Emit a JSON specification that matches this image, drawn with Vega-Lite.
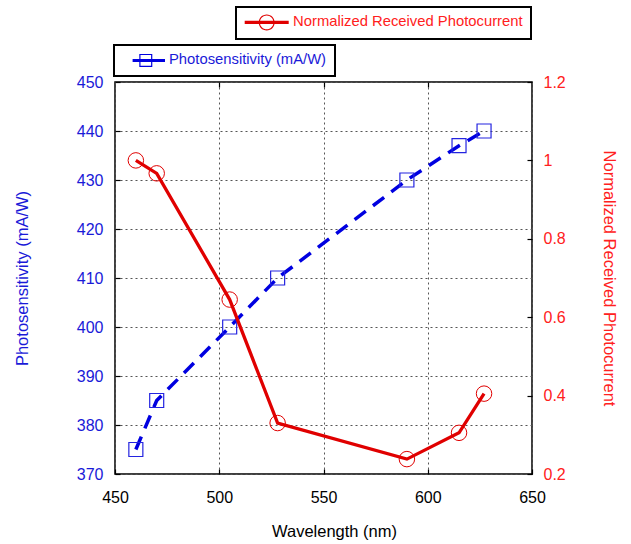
{
  "$schema": "https://vega.github.io/schema/vega-lite/v6.json",
  "width": 417,
  "height": 392,
  "autosize": {"type": "none"},
  "padding": {"left": 115, "top": 82, "right": 99, "bottom": 70},
  "config": {
    "font": "Liberation Sans",
    "view": {"stroke": "black", "strokeWidth": 1.5},
    "legend": {"strokeWidth": 2},
    "axis": {
      "domain": false,
      "grid": true,
      "gridDash": [2, 3],
      "gridColor": "#555555",
      "gridWidth": 1,
      "gridOpacity": 1,
      "tickColor": "black",
      "tickSize": -5,
      "tickWidth": 1.2,
      "labelFont": "Liberation Sans",
      "titleFont": "Liberation Sans",
      "labelFontSize": 16,
      "titleFontSize": 16.5,
      "titleFontWeight": "normal",
      "labelFlush": false,
      "labelOverlap": false
    }
  },
  "data": {
    "values": [
      {"wl": 460, "ps": 375, "nrc": 1.0},
      {"wl": 470, "ps": 385, "nrc": 0.967},
      {"wl": 505, "ps": 400, "nrc": 0.645},
      {"wl": 528, "ps": 410, "nrc": 0.33},
      {"wl": 590, "ps": 430, "nrc": 0.238},
      {"wl": 615, "ps": 437, "nrc": 0.305},
      {"wl": 627, "ps": 440, "nrc": 0.405}
    ]
  },
  "layer": [
    {
      "encoding": {
        "x": {
          "field": "wl",
          "type": "quantitative",
          "scale": {"domain": [450, 650], "nice": false, "zero": false},
          "axis": {
            "orient": "bottom",
            "title": "Wavelength (nm)",
            "values": [450, 500, 550, 600, 650],
            "labelColor": "black",
            "labelPadding": 20,
            "titleColor": "black",
            "titleBaseline": "alphabetic",
            "titleX": 219,
            "titleY": 62.7
          }
        }
      },
      "layer": [
        {
          "mark": {"type": "line", "strokeDash": [14, 9], "strokeWidth": 3.5, "strokeCap": "butt"},
          "encoding": {
            "y": {
              "field": "ps",
              "type": "quantitative",
              "scale": {"domain": [370, 450], "nice": false, "zero": false},
              "axis": {
                "orient": "left",
                "title": "Photosensitivity (mA/W)",
                "values": [370, 380, 390, 400, 410, 420, 430, 440, 450],
                "labelColor": "#1a1ad8",
                "titleColor": "#1a1ad8",
                "labelPadding": 17,
                "titleBaseline": "alphabetic",
                "titleX": -88
              }
            },
            "color": {
              "datum": "Photosensitivity (mA/W)",
              "scale": {"range": ["#0000e0"]},
              "legend": {
                "orient": "none",
                "legendX": -1,
                "legendY": -37,
                "title": null,
                "padding": 8,
                "strokeColor": "black",
                "labelFont": "Liberation Sans",
                "labelFontSize": 14.8,
                "labelLimit": 400,
                "labelColor": "#1a1ad8",
                "symbolType": "M-2.314,-0.214H2.314V0.214H-2.314Z M-1.357,-0.929H0.5V0.929H-1.357Z M-1.186,-0.757V0.757H0.329V-0.757Z",
                "symbolSize": 196,
                "symbolStrokeWidth": 0,
                "symbolOffset": 19.4,
                "labelOffset": 12.8,
                "symbolFillColor": "#0000e0",
                "symbolStrokeColor": "transparent"
              }
            }
          }
        },
        {
          "mark": {"type": "point", "shape": "square", "size": 196, "filled": false, "color": "#2424e0", "strokeWidth": 1.2, "opacity": 1},
          "encoding": {
            "y": {"field": "ps", "type": "quantitative"}
          }
        }
      ]
    },
    {
      "encoding": {
        "x": {
          "field": "wl",
          "type": "quantitative",
          "axis": {
            "orient": "top",
            "title": null,
            "labels": false,
            "grid": false,
            "values": [500, 550, 600]
          }
        }
      },
      "layer": [
        {
          "mark": {"type": "line", "strokeWidth": 3.3},
          "encoding": {
            "y": {
              "field": "nrc",
              "type": "quantitative",
              "scale": {"domain": [0.2, 1.2], "nice": false, "zero": false},
              "axis": {
                "orient": "right",
                "title": "Normalized Received Photocurrent",
                "values": [0.2, 0.4, 0.6, 0.8, 1.0, 1.2],
                "format": "~g",
                "labelColor": "#ff2020",
                "titleColor": "#ff2020",
                "labelPadding": 16,
                "titleBaseline": "alphabetic",
                "titleX": 71.5
              }
            },
            "color": {
              "datum": "Normalized Received Photocurrent",
              "scale": {"range": ["#e00000"]},
              "legend": {
                "orient": "none",
                "legendX": 121,
                "legendY": -75,
                "title": null,
                "padding": 8,
                "strokeColor": "black",
                "labelFont": "Liberation Sans",
                "labelFontSize": 14.8,
                "labelLimit": 400,
                "labelColor": "#ff2020",
                "symbolType": "M-3.143,-0.229H3.143V0.229H-3.143Z M1.143,0A1.143,1.143,0,1,1,-1.143,0A1.143,1.143,0,1,1,1.143,0Z M0.971,0A0.971,0.971,0,1,0,-0.971,0A0.971,0.971,0,1,0,0.971,0Z",
                "symbolSize": 196,
                "symbolStrokeWidth": 0,
                "symbolOffset": 15.3,
                "labelOffset": 19,
                "symbolFillColor": "#e00000",
                "symbolStrokeColor": "transparent"
              }
            }
          }
        },
        {
          "mark": {"type": "point", "shape": "circle", "size": 240, "filled": false, "color": "#e00000", "strokeWidth": 1, "opacity": 1},
          "encoding": {
            "y": {"field": "nrc", "type": "quantitative"}
          }
        }
      ]
    }
  ],
  "resolve": {"scale": {"y": "independent", "color": "independent"}, "axis": {"x": "independent"}}
}
